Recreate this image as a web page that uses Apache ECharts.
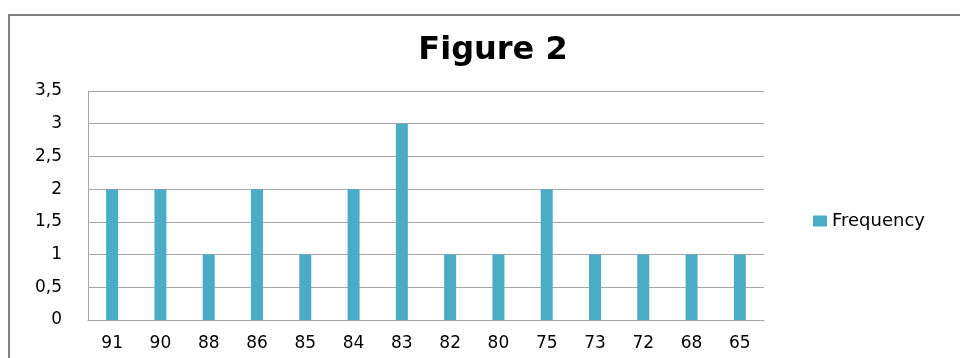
<!DOCTYPE html>
<html>
<head>
<meta charset="utf-8">
<style>
  html, body { margin: 0; padding: 0; background: #ffffff; }
  #chart { width: 960px; height: 358px; }
</style>
<script src="https://cdn.jsdelivr.net/npm/echarts@6/dist/echarts.min.js"></script>
</head>
<body>
<div id="chart"></div>
<script>
// Scores (categories) and how many times each occurs
const scores = ['91', '90', '88', '86', '85', '84', '83', '82', '80', '75', '73', '72', '68', '65'];
const frequency = [2, 2, 1, 2, 1, 2, 3, 1, 1, 2, 1, 1, 1, 1];
const seriesName = 'Frequency';
const chartTitle = 'Figure 2';

const FONT = '"DejaVu Sans", Verdana, sans-serif';

const chart = echarts.init(document.getElementById('chart'), null, { renderer: 'canvas' });

chart.setOption({
  animation: false,
  backgroundColor: '#ffffff',
  graphic: [{
    // outer chart frame, running past the right and bottom edges
    type: 'rect',
    shape: { x: 9, y: 15, width: 1000, height: 400 },
    style: { fill: 'none', stroke: '#808080', lineWidth: 2 },
    silent: true,
    z: -1
  }],
  title: {
    text: chartTitle,
    left: 488,
    textAlign: 'center',
    top: 30,
    textStyle: { fontFamily: FONT, fontWeight: 'bold', fontSize: 32, color: '#000000' }
  },
  legend: {
    data: [seriesName],
    left: 808,
    top: 207,
    icon: 'rect',
    itemWidth: 14,
    itemHeight: 11,
    itemGap: 8,
    textStyle: { fontFamily: FONT, fontSize: 18, color: '#000000' }
  },
  grid: { left: 88, top: 91, width: 676, height: 229, containLabel: false },
  xAxis: {
    type: 'category',
    data: scores,
    axisLine: { lineStyle: { color: '#a6a6a6', width: 1 } },
    axisTick: { show: false },
    axisLabel: { fontFamily: FONT, fontSize: 17, color: '#000000', margin: 15 },
    splitLine: { show: false }
  },
  yAxis: {
    type: 'value',
    min: 0,
    max: 3.5,
    interval: 0.5,
    axisLine: { show: true, lineStyle: { color: '#a6a6a6', width: 1 } },
    axisTick: { show: false },
    axisLabel: {
      fontFamily: FONT, fontSize: 17, color: '#000000', margin: 26,
      padding: [5, 0, 0, 0],
      formatter: v => String(v).replace('.', ',')
    },
    splitLine: { show: true, lineStyle: { color: '#a6a6a6', width: 1 } }
  },
  series: [{
    name: seriesName,
    type: 'bar',
    data: frequency,
    barWidth: 12,
    itemStyle: { color: '#4bacc6' }
  }]
});
</script>
</body>
</html>
